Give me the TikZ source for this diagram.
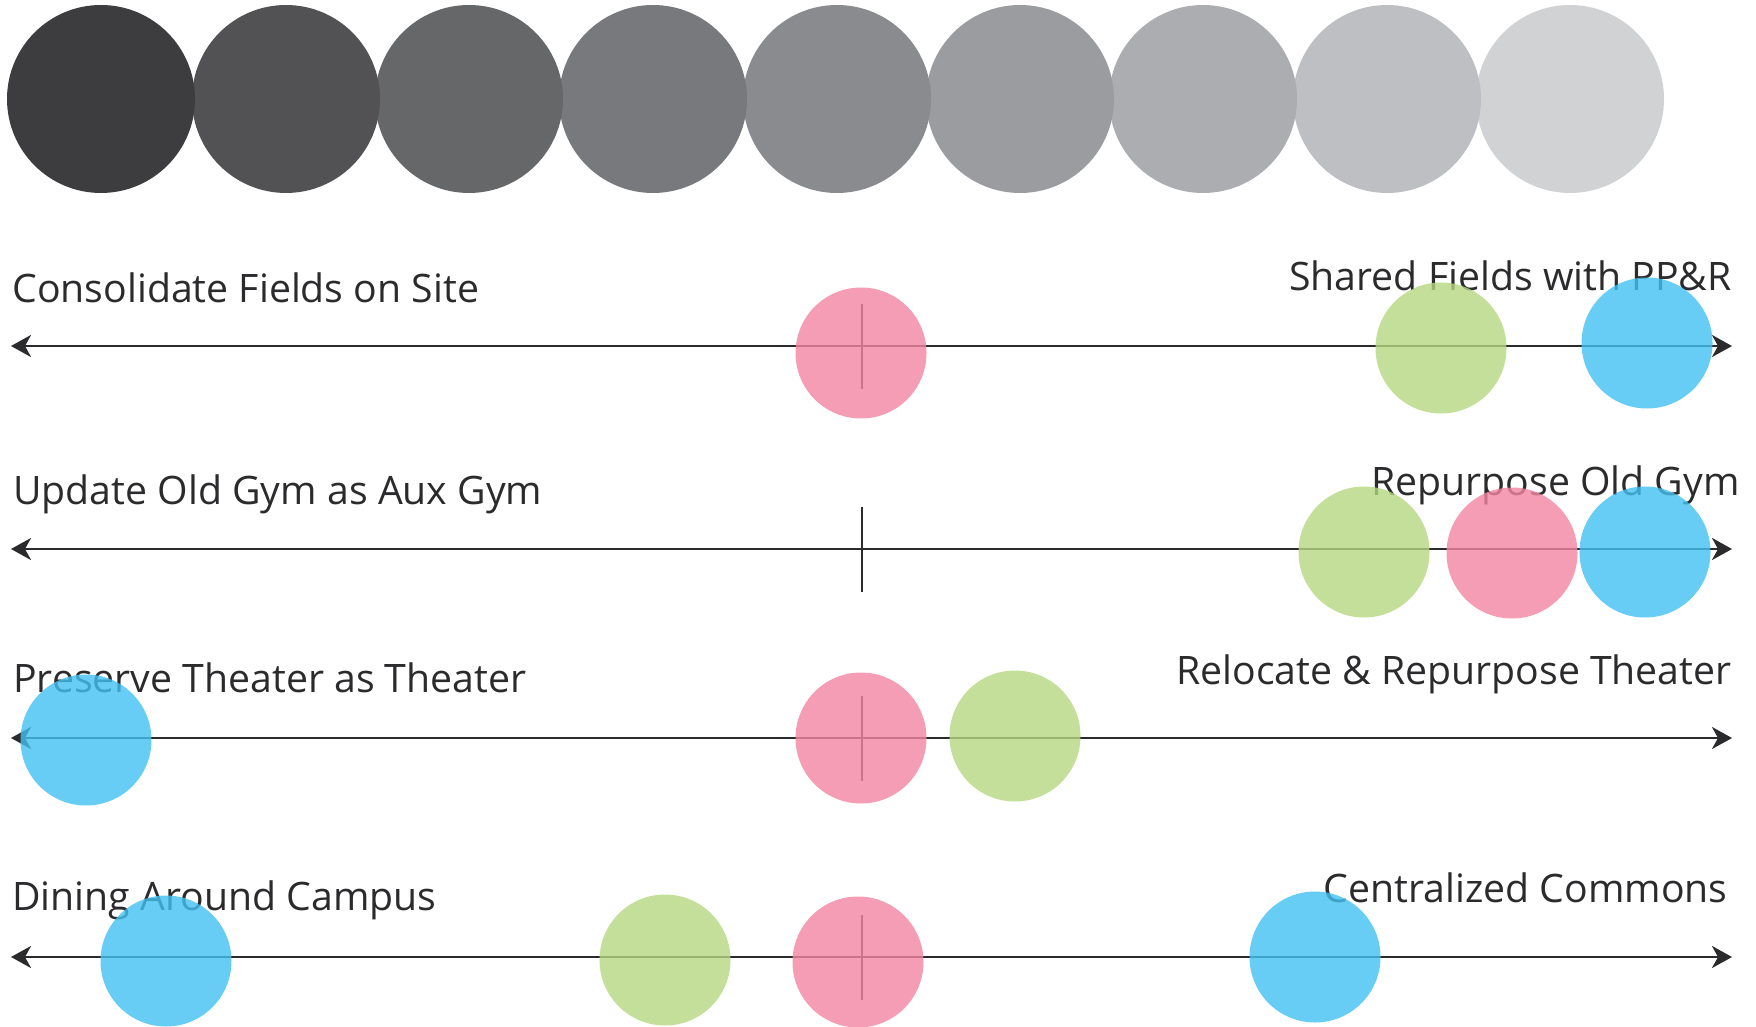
\documentclass[tikz,border=0pt]{standalone}
\usepackage{fontspec}
\setmainfont{Open Sans}
\usepackage{xcolor}
\usetikzlibrary{arrows.meta, positioning, calc}

\definecolor{grayA}{HTML}{3D3D3F}
\definecolor{grayB}{HTML}{525254}
\definecolor{grayC}{HTML}{666769}
\definecolor{grayD}{HTML}{78797C}
\definecolor{grayE}{HTML}{8A8B8E}
\definecolor{grayF}{HTML}{9B9CA0}
\definecolor{grayG}{HTML}{ACADB0}
\definecolor{grayH}{HTML}{BEBFC2}
\definecolor{grayI}{HTML}{D1D2D4}
\definecolor{pinkfill}{HTML}{F385A1}
\definecolor{greenfill}{HTML}{B5D781}
\definecolor{bluefill}{HTML}{42C1F1}
\definecolor{inkgray}{HTML}{2B2B2D}

\begin{document}
\begin{tikzpicture}[
        x=0.5pt, y=-0.5pt,
        swatch/.style={circle, inner sep=0pt, minimum size=94pt},
        dot/.style={circle, inner sep=0pt, minimum size=65.5pt, fill opacity=0.8},
        pinkdot/.style={dot, fill=pinkfill},
        greendot/.style={dot, fill=greenfill},
        bluedot/.style={dot, fill=bluefill},
        txt/.style={inner sep=0pt, text=inkgray, font=\fontsize{19.6}{24}\selectfont},
        lefttxt/.style={txt, anchor=base west},
        righttxt/.style={txt, anchor=base east},
        axis/.style={line width=1.35pt, draw=inkgray,
            {Stealth[length=10pt, width=11pt, inset=3pt]}-{Stealth[length=10pt, width=11pt, inset=3pt]}},
        midmark/.style={line width=1.35pt, draw=inkgray}
    ]
        \useasboundingbox (0,0) rectangle (1756,1027);

        % Escala de cinzas
        \node[swatch, fill=grayI] (s9) at (1570,99) {};
        \node[swatch, fill=grayH] (s8) at (1387,99) {};
        \node[swatch, fill=grayG] (s7) at (1203,99) {};
        \node[swatch, fill=grayF] (s6) at (1020,99) {};
        \node[swatch, fill=grayE] (s5) at (837,99) {};
        \node[swatch, fill=grayD] (s4) at (653,99) {};
        \node[swatch, fill=grayC] (s3) at (469,99) {};
        \node[swatch, fill=grayB] (s2) at (286,99) {};
        \node[swatch, fill=grayA] (s1) at (101,99) {};

        % Textos
        \node[lefttxt] (fieldsL) at (12,302) {Consolidate Fields on Site};
        \node[righttxt] (fieldsR) at (1732,291) {Shared Fields with PP\&R};
        \node[lefttxt] (gymL) at (13,504) {Update Old Gym as Aux Gym};
        \node[righttxt] (gymR) at (1740,495) {Repurpose Old Gym};
        \node[lefttxt] (theaterL) at (13,692) {Preserve Theater as Theater};
        \node[righttxt] (theaterR) at (1732,684) {Relocate \& Repurpose Theater};
        \node[lefttxt] (diningL) at (12,910) {Dining Around Campus};
        \node[righttxt] (diningR) at (1728,902) {Centralized Commons};

        % Eixos
        \coordinate (a1) at (11,346);
        \coordinate (b1) at (1732,346);
        \coordinate (m1) at (862,346);
        \coordinate (a2) at (11,549);
        \coordinate (b2) at (1732,549);
        \coordinate (m2) at (862,549);
        \coordinate (a3) at (11,738);
        \coordinate (b3) at (1732,738);
        \coordinate (m3) at (862,738);
        \coordinate (a4) at (11,957);
        \coordinate (b4) at (1732,957);
        \coordinate (m4) at (862,957);

        \draw[axis] (a1) -- (b1);
        \draw[axis] (a2) -- (b2);
        \draw[axis] (a3) -- (b3);
        \draw[axis] (a4) -- (b4);

        \draw[midmark] ($(m1)+(0,-42)$) -- ($(m1)+(0,43)$);
        \draw[midmark] ($(m2)+(0,-42)$) -- ($(m2)+(0,43)$);
        \draw[midmark] ($(m3)+(0,-42)$) -- ($(m3)+(0,43)$);
        \draw[midmark] ($(m4)+(0,-42)$) -- ($(m4)+(0,43)$);

        % Campos
        \node[pinkdot] (fieldsP) at (861,353) {};
        \node[greendot] (fieldsG) at (1441,348) {};
        \node[bluedot] (fieldsB) at (1647,343) {};

        % Ginasio
        \node[greendot] (gymG) at (1364,552) {};
        \node[pinkdot] (gymP) at (1512,553) {};
        \node[bluedot] (gymB) at (1645,552) {};

        % Teatro
        \node[bluedot] (theaterB) at (86,740) {};
        \node[pinkdot] (theaterP) at (861,738) {};
        \node[greendot] (theaterG) at (1015,736) {};

        % Refeicoes
        \node[bluedot] (diningB1) at (166,961) {};
        \node[greendot] (diningG) at (665,960) {};
        \node[pinkdot] (diningP) at (858,962) {};
        \node[bluedot] (diningB2) at (1315,957) {};

    \end{tikzpicture}
\end{document}
